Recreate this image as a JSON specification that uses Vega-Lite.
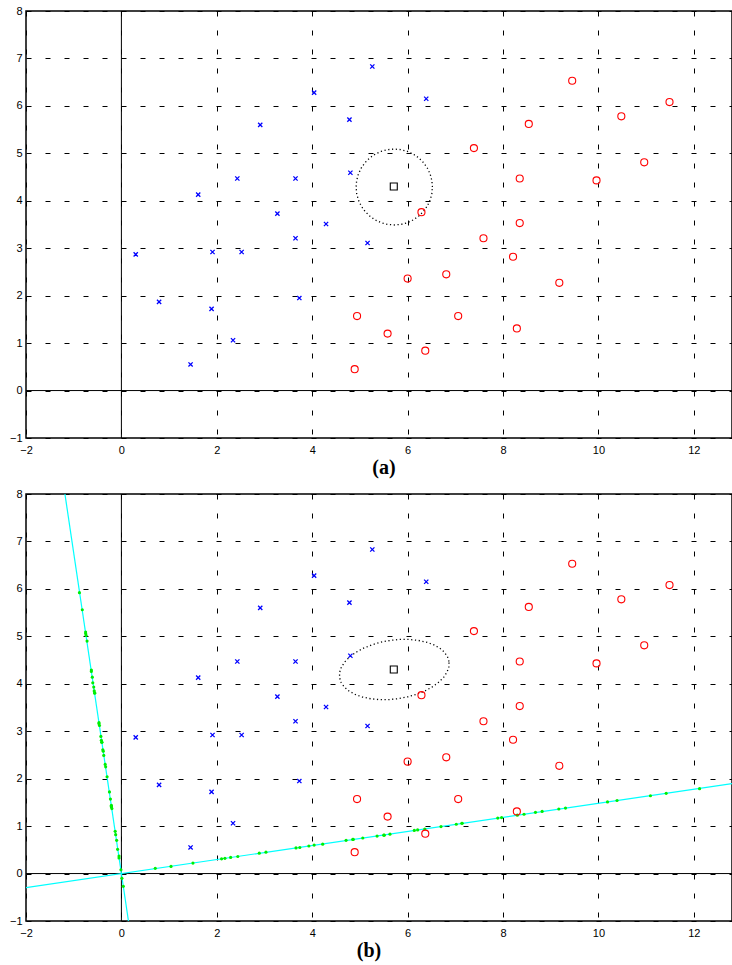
{
  "$schema": "https://vega.github.io/schema/vega-lite/v6.json",
  "padding": {"left": 8, "top": 4, "right": 0, "bottom": 0},
  "spacing": 8,
  "config": {
    "view": {"stroke": "#000", "strokeWidth": 1.5},
    "axis": {"grid": true, "gridDash": [5, 14], "gridColor": "#000", "gridOpacity": 1, "gridWidth": 1, "domain": false, "ticks": false, "labelFont": "Liberation Sans", "labelFontSize": 11, "labelColor": "#000", "labelFlush": false, "labelOverlap": false, "title": null},
    "axisX": {"labelPadding": 6},
    "axisY": {"labelPadding": 4},
    "title": {"font": "Liberation Serif", "fontSize": 20, "fontWeight": "bold", "color": "#000", "orient": "bottom", "offset": 3}
  },
  "datasets": {
    "pts": [
      {"x": 4.04, "y": 6.28, "c": "b"}, {"x": 2.91, "y": 5.60, "c": "b"}, {"x": 4.78, "y": 5.71, "c": "b"},
      {"x": 2.43, "y": 4.47, "c": "b"}, {"x": 3.65, "y": 4.47, "c": "b"}, {"x": 4.80, "y": 4.59, "c": "b"},
      {"x": 1.61, "y": 4.13, "c": "b"}, {"x": 3.27, "y": 3.73, "c": "b"}, {"x": 4.29, "y": 3.51, "c": "b"},
      {"x": 3.65, "y": 3.21, "c": "b"}, {"x": 5.26, "y": 6.83, "c": "b"}, {"x": 6.39, "y": 6.15, "c": "b"},
      {"x": 0.30, "y": 2.87, "c": "b"}, {"x": 1.91, "y": 2.92, "c": "b"}, {"x": 2.52, "y": 2.92, "c": "b"},
      {"x": 5.16, "y": 3.11, "c": "b"}, {"x": 0.79, "y": 1.87, "c": "b"}, {"x": 1.89, "y": 1.72, "c": "b"},
      {"x": 3.73, "y": 1.95, "c": "b"}, {"x": 2.34, "y": 1.06, "c": "b"}, {"x": 1.45, "y": 0.55, "c": "b"},
      {"x": 9.45, "y": 6.53, "c": "r"}, {"x": 11.49, "y": 6.08, "c": "r"}, {"x": 10.48, "y": 5.78, "c": "r"},
      {"x": 8.54, "y": 5.62, "c": "r"}, {"x": 7.39, "y": 5.11, "c": "r"}, {"x": 10.96, "y": 4.81, "c": "r"},
      {"x": 8.35, "y": 4.47, "c": "r"}, {"x": 9.96, "y": 4.43, "c": "r"}, {"x": 6.29, "y": 3.76, "c": "r"},
      {"x": 8.35, "y": 3.53, "c": "r"}, {"x": 7.59, "y": 3.21, "c": "r"}, {"x": 6.00, "y": 2.36, "c": "r"},
      {"x": 6.81, "y": 2.45, "c": "r"}, {"x": 8.21, "y": 2.82, "c": "r"}, {"x": 9.18, "y": 2.27, "c": "r"},
      {"x": 7.06, "y": 1.57, "c": "r"}, {"x": 8.29, "y": 1.31, "c": "r"}, {"x": 5.58, "y": 1.20, "c": "r"},
      {"x": 6.37, "y": 0.84, "c": "r"}, {"x": 4.94, "y": 1.57, "c": "r"}, {"x": 4.89, "y": 0.45, "c": "r"}
    ],
    "sq": [{"x": 5.71, "y": 4.30}],
    "zero": [
      {"g": "v", "i": 0, "x": 0, "y": -1}, {"g": "v", "i": 1, "x": 0, "y": 8},
      {"g": "h", "i": 0, "x": -2, "y": 0}, {"g": "h", "i": 1, "x": 12.8, "y": 0}
    ],
    "pcs": [
      {"g": "a", "i": 0, "x": -2, "y": -0.296}, {"g": "a", "i": 1, "x": 12.8, "y": 1.894},
      {"g": "b", "i": 0, "x": -1.184, "y": 8}, {"g": "b", "i": 1, "x": 0.148, "y": -1}
    ],
    "circle": [
      {"i": 0, "x": 6.52, "y": 4.29}, {"i": 1, "x": 6.508, "y": 4.429}, {"i": 2, "x": 6.472, "y": 4.564},
      {"i": 3, "x": 6.413, "y": 4.69}, {"i": 4, "x": 6.333, "y": 4.804}, {"i": 5, "x": 6.234, "y": 4.903},
      {"i": 6, "x": 6.12, "y": 4.983}, {"i": 7, "x": 5.994, "y": 5.042}, {"i": 8, "x": 5.859, "y": 5.078},
      {"i": 9, "x": 5.72, "y": 5.09}, {"i": 10, "x": 5.581, "y": 5.078}, {"i": 11, "x": 5.446, "y": 5.042},
      {"i": 12, "x": 5.32, "y": 4.983}, {"i": 13, "x": 5.206, "y": 4.903}, {"i": 14, "x": 5.107, "y": 4.804},
      {"i": 15, "x": 5.027, "y": 4.69}, {"i": 16, "x": 4.968, "y": 4.564}, {"i": 17, "x": 4.932, "y": 4.429},
      {"i": 18, "x": 4.92, "y": 4.29}, {"i": 19, "x": 4.932, "y": 4.151}, {"i": 20, "x": 4.968, "y": 4.016},
      {"i": 21, "x": 5.027, "y": 3.89}, {"i": 22, "x": 5.107, "y": 3.776}, {"i": 23, "x": 5.206, "y": 3.677},
      {"i": 24, "x": 5.32, "y": 3.597}, {"i": 25, "x": 5.446, "y": 3.538}, {"i": 26, "x": 5.581, "y": 3.502},
      {"i": 27, "x": 5.72, "y": 3.49}, {"i": 28, "x": 5.859, "y": 3.502}, {"i": 29, "x": 5.994, "y": 3.538},
      {"i": 30, "x": 6.12, "y": 3.597}, {"i": 31, "x": 6.234, "y": 3.677}, {"i": 32, "x": 6.333, "y": 3.776},
      {"i": 33, "x": 6.413, "y": 3.89}, {"i": 34, "x": 6.472, "y": 4.016}, {"i": 35, "x": 6.508, "y": 4.151},
      {"i": 36, "x": 6.52, "y": 4.29}
    ],
    "ellipse": [
      {"i": 0, "x": 6.868, "y": 4.470}, {"i": 1, "x": 6.834, "y": 4.574}, {"i": 2, "x": 6.767, "y": 4.669},
      {"i": 3, "x": 6.668, "y": 4.754}, {"i": 4, "x": 6.541, "y": 4.824}, {"i": 5, "x": 6.388, "y": 4.879},
      {"i": 6, "x": 6.215, "y": 4.916}, {"i": 7, "x": 6.027, "y": 4.934}, {"i": 8, "x": 5.830, "y": 4.934},
      {"i": 9, "x": 5.629, "y": 4.913}, {"i": 10, "x": 5.431, "y": 4.875}, {"i": 11, "x": 5.242, "y": 4.818},
      {"i": 12, "x": 5.068, "y": 4.746}, {"i": 13, "x": 4.913, "y": 4.661}, {"i": 14, "x": 4.783, "y": 4.564},
      {"i": 15, "x": 4.681, "y": 4.460}, {"i": 16, "x": 4.611, "y": 4.350}, {"i": 17, "x": 4.574, "y": 4.239},
      {"i": 18, "x": 4.573, "y": 4.130}, {"i": 19, "x": 4.606, "y": 4.026}, {"i": 20, "x": 4.673, "y": 3.931},
      {"i": 21, "x": 4.772, "y": 3.846}, {"i": 22, "x": 4.899, "y": 3.776}, {"i": 23, "x": 5.052, "y": 3.721},
      {"i": 24, "x": 5.225, "y": 3.684}, {"i": 25, "x": 5.413, "y": 3.666}, {"i": 26, "x": 5.610, "y": 3.667},
      {"i": 27, "x": 5.811, "y": 3.687}, {"i": 28, "x": 6.009, "y": 3.726}, {"i": 29, "x": 6.198, "y": 3.782},
      {"i": 30, "x": 6.372, "y": 3.854}, {"i": 31, "x": 6.527, "y": 3.939}, {"i": 32, "x": 6.657, "y": 4.036},
      {"i": 33, "x": 6.759, "y": 4.140}, {"i": 34, "x": 6.829, "y": 4.250}, {"i": 35, "x": 6.866, "y": 4.361},
      {"i": 36, "x": 6.868, "y": 4.470}
    ],
    "proj": [
      {"x": 4.86, "y": 0.72}, {"x": 3.66, "y": 0.54}, {"x": 5.51, "y": 0.81}, {"x": 3.03, "y": 0.45},
      {"x": 4.22, "y": 0.62}, {"x": 5.36, "y": 0.79}, {"x": 2.17, "y": 0.32}, {"x": 3.74, "y": 0.55},
      {"x": 4.71, "y": 0.70}, {"x": 4.04, "y": 0.60}, {"x": 6.14, "y": 0.91}, {"x": 7.14, "y": 1.06},
      {"x": 0.71, "y": 0.11}, {"x": 2.29, "y": 0.34}, {"x": 2.89, "y": 0.43}, {"x": 5.50, "y": 0.81},
      {"x": 1.04, "y": 0.15}, {"x": 2.10, "y": 0.31}, {"x": 3.93, "y": 0.58}, {"x": 2.44, "y": 0.36},
      {"x": 1.50, "y": 0.22},
      {"x": 10.19, "y": 1.51}, {"x": 12.12, "y": 1.79}, {"x": 11.09, "y": 1.64}, {"x": 9.17, "y": 1.36},
      {"x": 7.97, "y": 1.18}, {"x": 11.42, "y": 1.69}, {"x": 8.82, "y": 1.31}, {"x": 10.39, "y": 1.54},
      {"x": 6.70, "y": 0.99}, {"x": 8.68, "y": 1.29}, {"x": 7.89, "y": 1.17}, {"x": 6.21, "y": 0.92},
      {"x": 7.02, "y": 1.04}, {"x": 8.44, "y": 1.25}, {"x": 9.31, "y": 1.38}, {"x": 7.14, "y": 1.06},
      {"x": 8.30, "y": 1.23}, {"x": 5.63, "y": 0.83}, {"x": 6.36, "y": 0.94}, {"x": 5.06, "y": 0.75},
      {"x": 4.85, "y": 0.72},
      {"x": -0.82, "y": 5.56}, {"x": -0.75, "y": 5.06}, {"x": -0.72, "y": 4.90}, {"x": -0.60, "y": 4.02},
      {"x": -0.57, "y": 3.85}, {"x": -0.56, "y": 3.80}, {"x": -0.56, "y": 3.81}, {"x": -0.47, "y": 3.18},
      {"x": -0.42, "y": 2.81}, {"x": -0.39, "y": 2.61}, {"x": -0.88, "y": 5.92}, {"x": -0.75, "y": 5.09},
      {"x": -0.41, "y": 2.77}, {"x": -0.38, "y": 2.58}, {"x": -0.37, "y": 2.49}, {"x": -0.34, "y": 2.30},
      {"x": -0.25, "y": 1.72}, {"x": -0.21, "y": 1.41}, {"x": -0.20, "y": 1.37}, {"x": -0.10, "y": 0.70},
      {"x": -0.05, "y": 0.33},
      {"x": -0.74, "y": 5.02}, {"x": -0.63, "y": 4.29}, {"x": -0.61, "y": 4.14}, {"x": -0.63, "y": 4.26},
      {"x": -0.58, "y": 3.93}, {"x": -0.46, "y": 3.12}, {"x": -0.47, "y": 3.16}, {"x": -0.43, "y": 2.89},
      {"x": -0.41, "y": 2.77}, {"x": -0.33, "y": 2.25}, {"x": -0.30, "y": 2.04}, {"x": -0.21, "y": 1.44},
      {"x": -0.21, "y": 1.41}, {"x": -0.23, "y": 1.57}, {"x": -0.13, "y": 0.89}, {"x": -0.08, "y": 0.51},
      {"x": -0.01, "y": 0.08}, {"x": -0.05, "y": 0.37}, {"x": 0.01, "y": -0.10}, {"x": -0.12, "y": 0.82},
      {"x": 0.04, "y": -0.27}
    ]
  },
  "vconcat": [
    {
      "width": 706,
      "height": 427,
      "title": {"text": "(a)", "dx": 5},
      "encoding": {
        "x": {"field": "x", "type": "quantitative", "scale": {"domain": [-2, 12.8], "nice": false, "zero": false}, "axis": {"values": [-2, 0, 2, 4, 6, 8, 10, 12]}},
        "y": {"field": "y", "type": "quantitative", "scale": {"domain": [-1, 8], "nice": false, "zero": false}, "axis": {"values": [-1, 0, 1, 2, 3, 4, 5, 6, 7, 8]}}
      },
      "layer": [
        {"data": {"name": "zero"}, "mark": {"type": "line", "color": "#000", "strokeWidth": 1, "clip": true}, "encoding": {"detail": {"field": "g"}, "order": {"field": "i"}}},
        {"data": {"name": "circle"}, "mark": {"type": "line", "color": "#000", "strokeWidth": 1.3, "strokeDash": [1.2, 2.6]}, "encoding": {"order": {"field": "i"}}},
        {"data": {"name": "pts"}, "transform": [{"filter": "datum.c === 'b'"}], "mark": {"type": "point", "shape": "M-1,-1L1,1M1,-1L-1,1", "size": 18, "stroke": "#0000ff", "strokeWidth": 1.3, "filled": false, "opacity": 1}},
        {"data": {"name": "pts"}, "transform": [{"filter": "datum.c === 'r'"}], "mark": {"type": "point", "shape": "circle", "size": 50, "stroke": "#ff0000", "strokeWidth": 1.1, "filled": false, "opacity": 1}},
        {"data": {"name": "sq"}, "mark": {"type": "point", "shape": "square", "size": 49, "stroke": "#000", "strokeWidth": 1.1, "filled": false, "opacity": 1}}
      ]
    },
    {
      "width": 706,
      "height": 427,
      "title": {"text": "(b)", "dx": -10},
      "encoding": {
        "x": {"field": "x", "type": "quantitative", "scale": {"domain": [-2, 12.8], "nice": false, "zero": false}, "axis": {"values": [-2, 0, 2, 4, 6, 8, 10, 12]}},
        "y": {"field": "y", "type": "quantitative", "scale": {"domain": [-1, 8], "nice": false, "zero": false}, "axis": {"values": [-1, 0, 1, 2, 3, 4, 5, 6, 7, 8]}}
      },
      "layer": [
        {"data": {"name": "zero"}, "mark": {"type": "line", "color": "#000", "strokeWidth": 1, "clip": true}, "encoding": {"detail": {"field": "g"}, "order": {"field": "i"}}},
        {"data": {"name": "pcs"}, "mark": {"type": "line", "color": "#00ffff", "strokeWidth": 1.2, "clip": true}, "encoding": {"detail": {"field": "g"}, "order": {"field": "i"}}},
        {"data": {"name": "proj"}, "mark": {"type": "point", "shape": "circle", "size": 10, "fill": "#00ee00", "filled": true, "opacity": 1, "strokeWidth": 0}},
        {"data": {"name": "ellipse"}, "mark": {"type": "line", "color": "#000", "strokeWidth": 1.3, "strokeDash": [1.2, 2.6]}, "encoding": {"order": {"field": "i"}}},
        {"data": {"name": "pts"}, "transform": [{"filter": "datum.c === 'b'"}], "mark": {"type": "point", "shape": "M-1,-1L1,1M1,-1L-1,1", "size": 18, "stroke": "#0000ff", "strokeWidth": 1.3, "filled": false, "opacity": 1}},
        {"data": {"name": "pts"}, "transform": [{"filter": "datum.c === 'r'"}], "mark": {"type": "point", "shape": "circle", "size": 50, "stroke": "#ff0000", "strokeWidth": 1.1, "filled": false, "opacity": 1}},
        {"data": {"name": "sq"}, "mark": {"type": "point", "shape": "square", "size": 49, "stroke": "#000", "strokeWidth": 1.1, "filled": false, "opacity": 1}}
      ]
    }
  ]
}
